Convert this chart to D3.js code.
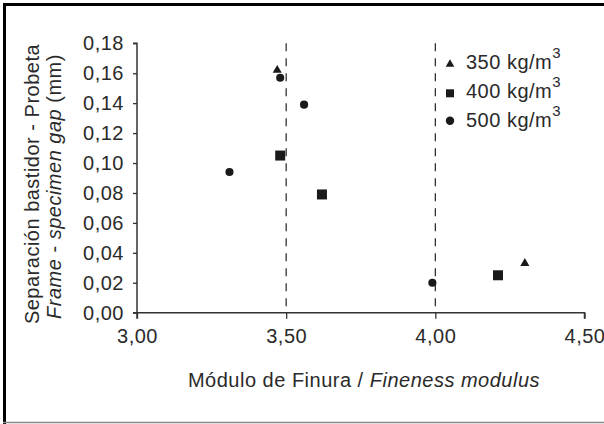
<!DOCTYPE html>
<html>
<head>
<meta charset="utf-8">
<script src="https://cdn.jsdelivr.net/npm/d3@7"></script>
<style>
  html, body { margin: 0; padding: 0; background: #fff; }
  svg { display: block; }
  text { font-family: "Liberation Sans", Arial, sans-serif; fill: #2a2a2a; letter-spacing: 0.5px; }
</style>
</head>
<body>
<svg id="chart" width="604" height="424"></svg>
<script>
// ---- data ----
const series350X = [3.47, 4.30];
const series350Y = [0.162, 0.033];
const series400X = [3.48, 3.62, 4.21];
const series400Y = [0.105, 0.079, 0.025];
const series500X = [3.31, 3.48, 3.56, 3.99];
const series500Y = [0.094, 0.157, 0.139, 0.020];
const seriesNames = ["350 kg/m", "400 kg/m", "500 kg/m"];
const xTicks = [3.00, 3.50, 4.00, 4.50];
const yTicks = [0.00, 0.02, 0.04, 0.06, 0.08, 0.10, 0.12, 0.14, 0.16, 0.18];
const refLinesX = [3.50, 4.00];

(function () {
const svg = d3.select("#chart");
const mLeft = 137, mRight = 584.5, mTop = 43.3, mBottom = 312.7;

// frame
svg.append("line").attr("x1", 4.5).attr("x2", 4.5).attr("y1", 3).attr("y2", 424)
  .attr("stroke", "#000").attr("stroke-width", 3);
svg.append("line").attr("x1", 3).attr("x2", 604).attr("y1", 4.5).attr("y2", 4.5)
  .attr("stroke", "#000").attr("stroke-width", 3);
svg.append("line").attr("x1", 3).attr("x2", 604).attr("y1", 422.5).attr("y2", 422.5)
  .attr("stroke", "#888").attr("stroke-width", 1.5);

const x = d3.scaleLinear().domain([3.0, 4.5]).range([mLeft, mRight]);
const y = d3.scaleLinear().domain([0, 0.18]).range([mBottom, mTop]);
const fmt = d => d3.format(".2f")(d).replace(".", ",");

// reference dashed lines
svg.append("g").selectAll("line").data(refLinesX).join("line")
  .attr("x1", d => x(d)).attr("x2", d => x(d))
  .attr("y1", y(0.18)).attr("y2", y(0))
  .attr("stroke", "#222").attr("stroke-width", 1.2)
  .attr("stroke-dasharray", "8,7");

// axes
const xAxis = svg.append("g").attr("transform", `translate(0,${mBottom})`)
  .call(d3.axisBottom(x).tickValues(xTicks).tickFormat(fmt).tickSize(6).tickPadding(10));
const yAxis = svg.append("g").attr("transform", `translate(${mLeft},0)`)
  .call(d3.axisLeft(y).tickValues(yTicks).tickFormat(fmt).tickSize(4).tickPadding(9));
[xAxis, yAxis].forEach(a => {
  a.select(".domain").attr("stroke", "#333").attr("stroke-width", 1.5);
  a.selectAll(".tick line").attr("stroke", "#333").attr("stroke-width", 1.3);
  a.selectAll(".tick text").attr("font-size", 20).attr("fill", "#2a2a2a")
    .style("font-family", '"Liberation Sans", Arial, sans-serif');
});
xAxis.select(".domain").attr("d", `M${mLeft},6V0H${mRight}V6`);
yAxis.select(".domain").attr("d", `M-4,${mTop}H0V${mBottom}H-4`);

// markers
const sym = [
  d3.symbol().type(d3.symbolTriangle).size(36),
  d3.symbol().type(d3.symbolSquare).size(100),
  d3.symbol().type(d3.symbolCircle).size(52)
];
const allSeries = [
  series350X.map((v, i) => [v, series350Y[i]]),
  series400X.map((v, i) => [v, series400Y[i]]),
  series500X.map((v, i) => [v, series500Y[i]])
];
allSeries.forEach((pts, si) => {
  svg.append("g").selectAll("path").data(pts).join("path")
    .attr("d", sym[si]())
    .attr("transform", d => `translate(${x(d[0])},${y(d[1])})`)
    .attr("fill", "#1a1a1a");
});

// legend
const legSym = [
  d3.symbol().type(d3.symbolTriangle).size(32),
  d3.symbol().type(d3.symbolSquare).size(64),
  d3.symbol().type(d3.symbolCircle).size(56)
];
const legY = [64.3, 93.3, 120.7];
const legBase = [69.3, 98.3, 127.3];
seriesNames.forEach((n, i) => {
  svg.append("path").attr("d", legSym[i]())
    .attr("transform", `translate(450,${legY[i]})`).attr("fill", "#1a1a1a");
  const t = svg.append("text").attr("x", 466).attr("y", legBase[i]).attr("font-size", 20);
  t.append("tspan").text(n);
  t.append("tspan").text("3").attr("font-size", 15).attr("dy", -11);
});

// x title
const xt = svg.append("text").attr("x", 364).attr("y", 387).attr("font-size", 20)
  .attr("text-anchor", "middle");
xt.append("tspan").text("Módulo de Finura / ");
xt.append("tspan").text("Fineness modulus").attr("font-style", "italic");

// y title
svg.append("text").attr("transform", "translate(39,184) rotate(-90)")
  .attr("font-size", 20).attr("text-anchor", "middle")
  .text("Separación bastidor - Probeta");
const yt2 = svg.append("text").attr("transform", "translate(61,186.5) rotate(-90)")
  .attr("font-size", 20).attr("text-anchor", "middle");
yt2.append("tspan").text("Frame").attr("font-style", "italic");
yt2.append("tspan").text(" - ");
yt2.append("tspan").text("specimen gap").attr("font-style", "italic");
yt2.append("tspan").text(" (mm)");
})();
</script>
</body>
</html>
